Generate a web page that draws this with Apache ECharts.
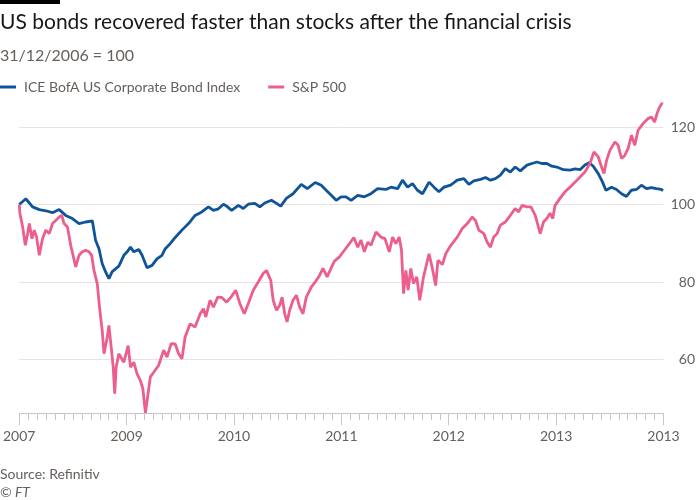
<!DOCTYPE html>
<html>
<head>
<meta charset="utf-8">
<script src="https://cdn.jsdelivr.net/npm/echarts@6/dist/echarts.min.js"></script>
<style>
html,body{margin:0;padding:0;background:#fff;}
#chart{width:700px;height:500px;}
</style>
</head>
<body>
<div id="chart"></div>
<script>
// x positions are months since the start of the plotted period
const xTickLabels = ["2007", "2009", "2010", "2011", "2012", "2013", "2013"];
const yTickValues = [60, 80, 100, 120];

const bondMonths = [0,0.74,1.49,2.24,2.97,3.72,4.46,5.19,5.94,6.68,7.42,8.17,8.53,8.91,9.27,9.65,10.02,10.39,11.13,11.69,12.06,12.43,12.8,13.36,13.73,14.28,14.84,15.39,15.95,16.32,16.87,17.43,18.18,18.92,19.65,20.4,21.15,21.7,22.26,22.82,23.18,23.73,24.49,25.04,25.59,26.33,26.89,27.44,28.18,28.75,29.22,29.85,30.6,31.52,32.19,33.08,33.75,34.3,34.87,35.42,35.97,36.52,37.09,37.83,38.56,39.31,40.05,40.98,41.54,42.28,42.83,43.4,43.95,44.5,45.07,45.8,46.35,46.9,47.47,48.21,48.95,49.69,50.25,50.8,51.55,52.11,52.66,53.21,53.77,54.33,54.88,55.43,56,56.74,57.29,57.86,58.41,58.96,59.52,60.08,60.81,61.55,62.12,62.67,63.22,63.7,64.15,64.71,65.19,65.56,66.2,66.75,67.31,67.86,68.42,68.98,69.53,70.09,70.65,71.2,71.76,71.95];
const bondValues = [100,101.5,99.4,98.7,98.4,97.9,98.7,97.2,96.4,95.1,95.5,95.8,90.8,88.6,84.8,82.6,80.9,82.7,84.1,86.9,87.8,89,87.8,88.4,86.9,83.7,84.3,86,86.9,88.6,89.9,91.5,93.4,95.1,97.2,98.1,99.4,98.5,98.9,100.1,99.6,98.5,99.8,99,100.1,100.3,99.4,100.4,101.1,100.3,99.6,101.6,102.8,105.2,104.1,105.7,105,103.7,102.4,101.1,102,102,101.1,102.4,102,102.8,104.1,103.9,104.5,104.1,106.3,104.5,105.4,103.7,102.8,105.8,104.5,103.3,104.5,105,106.3,106.7,105.2,106.1,106.5,107,106.3,106.7,107.6,109.3,108.4,109.7,108.7,110.2,110.6,111,110.6,110.6,109.9,109.7,109,108.9,109.2,109,110.2,110.8,109.9,108,105.8,103.7,104.5,103.9,102.8,102.1,103.7,103.9,105,104.1,104.4,104.1,103.9,103.6];

const spxMonths = [0,0.08,0.38,0.68,0.93,1.13,1.42,1.68,1.94,2.24,2.6,2.97,3.35,3.72,4.08,4.46,4.75,5.01,5.39,5.75,6.31,6.68,7.05,7.42,7.8,8.09,8.35,8.72,8.97,9.27,9.47,9.84,10.02,10.31,10.5,10.67,10.83,11.13,11.31,11.69,12.17,12.43,12.8,13.17,13.53,13.81,14.1,14.4,14.65,15.03,15.58,16.14,16.51,16.98,17.43,17.81,18.18,18.54,19.1,19.65,20.22,20.59,20.85,21.32,21.7,22.18,22.63,23.18,23.73,24.19,24.66,25.15,25.59,26.15,26.71,27.26,27.63,28.11,28.38,28.75,29.11,29.38,29.67,29.93,30.22,30.6,30.97,31.34,31.71,32.08,32.64,33.19,33.56,33.94,34.41,34.87,35.23,35.78,36.34,36.9,37.39,37.83,38.2,38.56,38.95,39.31,39.87,40.42,40.87,41.35,41.73,42.09,42.46,42.72,42.95,43.21,43.46,43.76,44.06,44.43,44.76,45.18,45.54,45.8,46.17,46.54,46.79,47.29,47.66,48.15,48.95,49.51,50.07,50.62,50.99,51.36,51.92,52.29,52.66,53.02,53.41,53.77,54.33,54.88,55.43,55.81,56.19,56.74,57.18,57.67,58.22,58.59,58.96,59.32,59.62,59.88,60.43,60.99,61.55,62.12,62.67,63.22,63.78,64.23,64.71,65.08,65.34,65.64,66.01,66.57,66.93,67.31,67.67,68.05,68.42,68.79,69.16,69.71,70.27,70.65,71.01,71.27,71.57,71.82,71.95];
const spxValues = [100,97.7,94.2,89.5,92.5,95.1,91.2,93.4,91.6,86.9,91.2,93.4,92.5,95.1,95.9,96.8,97.2,95.1,94.2,89.5,83.9,86.9,87.8,88.2,87.8,86.9,83,79.6,73.5,67.5,61.5,65.8,68.8,62.4,58,51.2,58,61.5,61.8,59.3,63.6,58,59.3,56.3,54.6,52.5,46.2,51.2,55.5,56.7,58.5,62.4,60.6,64.1,64,61.5,60.2,65.8,69.2,68.4,71.8,73.1,71,75.3,73.5,76.1,76,74.8,76.3,77.9,74.4,71.8,74.4,77.9,80,82.2,83,80.4,75.3,72.7,74,76.1,71.8,69.7,72.7,75.3,76.6,73.5,71.8,76.1,78.7,80.4,81.7,83.5,81.3,83.7,85.4,86.5,88.2,89.9,91.5,89,90.8,87.8,90.3,89.5,92.9,91.6,91.2,87.8,91.6,89.9,91.6,88.2,77,83,77.9,83.5,79.6,81.3,75.3,81.3,84.8,87.3,83.5,79.1,85.6,84.5,87.3,89.2,91.6,93.8,95.1,96.8,95.9,93.4,92.5,90.3,89,91.6,92.5,94.7,95.5,97.2,99,98.1,99.8,99.4,99.4,97.2,92.5,95.5,96.4,97.8,96.4,99.8,101.6,103.3,104.5,105.8,107.1,108.4,110.6,113.6,112.3,109.7,108,111.4,114,116.2,115.3,111.9,112.7,114.5,117.9,115.3,119.2,120.9,122.2,122.6,121.3,123.5,125.2,126.1,126];

const seriesNames = ["ICE BofA US Corporate Bond Index", "S&P 500"];
const seriesColors = ["#0f5499", "#eb5e8d"];

const FONT = "Lato, 'Noto Sans', sans-serif";
const chart = echarts.init(document.getElementById('chart'), null, {renderer: 'canvas'});
const zip = (xs, ys) => xs.map((x, i) => [x, ys[i]]);

chart.setOption({
  animation: false,
  backgroundColor: '#ffffff',
  textStyle: {fontFamily: FONT},
  title: [
    {text: 'US bonds recovered faster than stocks after the financial crisis', left: 0, top: 12, padding: 0,
     textStyle: {fontFamily: FONT, fontSize: 21, fontWeight: 'normal', color: '#1a1817'}},
    {text: '31/12/2006 = 100', left: 0, top: 48, padding: 0,
     textStyle: {fontFamily: FONT, fontSize: 16, fontWeight: 'normal', color: '#66605c'}},
    {text: 'Source: Refinitiv', left: 0, top: 467, padding: 0,
     textStyle: {fontFamily: FONT, fontSize: 14, fontWeight: 'normal', color: '#66605c'}},
    {text: '© FT', left: 0, top: 485, padding: 0,
     textStyle: {fontFamily: FONT, fontSize: 14, fontWeight: 'normal', fontStyle: 'italic', color: '#66605c'}}
  ],
  graphic: [
    {type: 'rect', left: 0, top: 0, shape: {width: 60, height: 4}, style: {fill: '#000000'}}
  ],
  legend: {
    left: 0, top: 80, padding: 0, itemGap: 28,
    icon: 'rect', itemWidth: 16, itemHeight: 3,
    textStyle: {fontFamily: FONT, fontSize: 14, color: '#66605c', padding: [0, 0, 0, 3]},
    data: seriesNames
  },
  grid: {left: 16.6, right: 36.5, top: 103.5, bottom: 86.7, containLabel: false},
  xAxis: {
    type: 'value', min: 0, max: 72, interval: 12,
    axisLine: {lineStyle: {color: '#cec6bd', width: 1}},
    axisTick: {show: true, length: 12, lineStyle: {color: '#cec6bd'}},
    minorTick: {show: true, splitNumber: 12, length: 7, lineStyle: {color: '#cec6bd'}},
    splitLine: {show: false},
    axisLabel: {
      margin: 16, fontFamily: FONT, fontSize: 14, color: '#66605c',
      showMinLabel: true, showMaxLabel: true,
      formatter: v => xTickLabels[Math.round(v / 12)]
    }
  },
  yAxis: {
    type: 'value', position: 'right', min: 46.1, max: 126.1,
    axisLine: {show: false},
    axisTick: {show: false, customValues: yTickValues},
    axisLabel: {customValues: yTickValues, align: 'right', margin: 31.5, fontFamily: FONT, fontSize: 14, color: '#66605c'},
    splitLine: {show: true, lineStyle: {color: '#e9e3dc', width: 1}}
  },
  series: [
    {name: seriesNames[0], type: 'line', data: zip(bondMonths, bondValues), showSymbol: false, clip: false,
     lineStyle: {color: seriesColors[0], width: 2.8}, itemStyle: {color: seriesColors[0]}},
    {name: seriesNames[1], type: 'line', data: zip(spxMonths, spxValues), showSymbol: false, clip: false,
     lineStyle: {color: seriesColors[1], width: 2.8}, itemStyle: {color: seriesColors[1]}}
  ]
});
</script>
</body>
</html>
